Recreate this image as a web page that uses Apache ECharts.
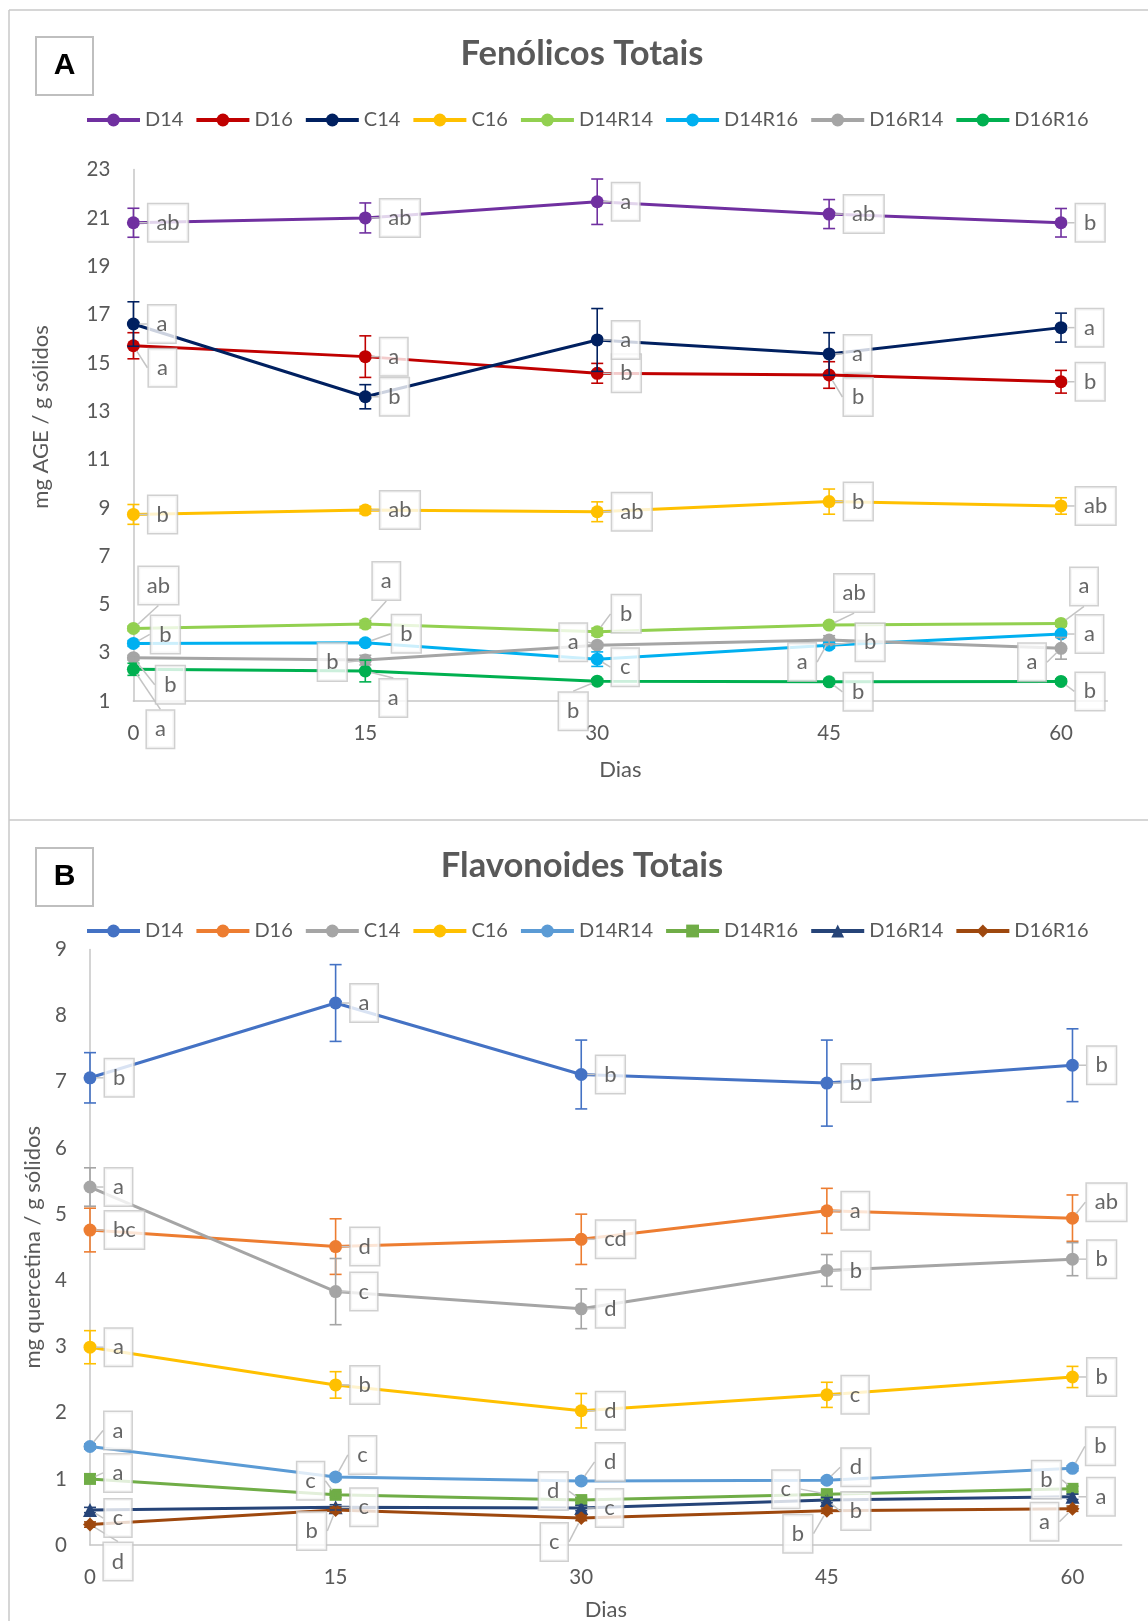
<!DOCTYPE html>
<html><head><meta charset="utf-8">
<script src="https://cdn.jsdelivr.net/npm/echarts@6/dist/echarts.min.js"></script>
<style>html,body{margin:0;padding:0;background:#fff}#c{width:1148px;height:1621px}</style>
</head><body><div id="c"></div>
<script>
// ---------- shared ----------
const days = [0, 15, 30, 45, 60];
const xTickLabels = [0, 15, 30, 45, 60];
const yTicksA = [1, 3, 5, 7, 9, 11, 13, 15, 17, 19, 21, 23];
const yTicksB = [0, 1, 2, 3, 4, 5, 6, 7, 8, 9];
const seriesNames = ['D14', 'D16', 'C14', 'C16', 'D14R14', 'D14R16', 'D16R14', 'D16R16'];

// ---------- Panel A: Fenólicos Totais (mg AGE / g sólidos) ----------
const fenD14 = [20.8, 21.0, 21.67, 21.16, 20.8];
const fenD16 = [15.71, 15.26, 14.57, 14.5, 14.22];
const fenC14 = [16.61, 13.6, 15.95, 15.37, 16.46];
const fenC16 = [8.73, 8.91, 8.84, 9.26, 9.08];
const fenD14R14 = [4.01, 4.19, 3.87, 4.15, 4.22];
const fenD14R16 = [3.39, 3.42, 2.74, 3.32, 3.78];
const fenD16R14 = [2.8, 2.7, 3.32, 3.53, 3.19];
const fenD16R16 = [2.32, 2.25, 1.83, 1.8, 1.82];

const fenErrD14 = [0.6, 0.62, 0.94, 0.6, 0.59];
const fenErrD16 = [0.54, 0.86, 0.41, 0.55, 0.47];
const fenErrC14 = [0.92, 0.5, 1.3, 0.88, 0.6];
const fenErrC16 = [0.41, 0.15, 0.41, 0.52, 0.34];
const fenErrD14R14 = [0.1, 0.15, 0.15, 0.1, 0.12];
const fenErrD14R16 = [0.12, 0.1, 0.3, 0.12, 0.1];
const fenErrD16R14 = [0.1, 0.2, 0.1, 0.18, 0.45];
const fenErrD16R16 = [0.25, 0.45, 0.1, 0.1, 0.1];

const fenLetD14 = ['ab', 'ab', 'a', 'ab', 'b'];
const fenLetD16 = ['a', 'a', 'b', 'b', 'b'];
const fenLetC14 = ['a', 'b', 'a', 'a', 'a'];
const fenLetC16 = ['b', 'ab', 'ab', 'b', 'ab'];
const fenLetD14R14 = ['ab', 'a', 'b', 'ab', 'a'];
const fenLetD14R16 = ['b', 'b', 'c', 'b', 'a'];
const fenLetD16R14 = ['b', 'b', 'a', 'a', 'a'];
const fenLetD16R16 = ['a', 'a', 'b', 'b', 'b'];

// ---------- Panel B: Flavonoides Totais (mg quercetina / g sólidos) ----------
const flaD14 = [7.06, 8.19, 7.11, 6.98, 7.25];
const flaD16 = [4.76, 4.51, 4.62, 5.05, 4.94];
const flaC14 = [5.41, 3.83, 3.57, 4.15, 4.32];
const flaC16 = [2.99, 2.42, 2.03, 2.27, 2.54];
const flaD14R14 = [1.49, 1.03, 0.97, 0.98, 1.16];
const flaD14R16 = [1.0, 0.76, 0.68, 0.77, 0.85];
const flaD16R14 = [0.53, 0.57, 0.56, 0.68, 0.73];
const flaD16R16 = [0.31, 0.53, 0.41, 0.52, 0.55];

const flaErrD14 = [0.38, 0.58, 0.52, 0.65, 0.55];
const flaErrD16 = [0.33, 0.42, 0.38, 0.34, 0.35];
const flaErrC14 = [0.29, 0.5, 0.3, 0.24, 0.25];
const flaErrC16 = [0.25, 0.2, 0.26, 0.19, 0.16];
const flaErrD14R14 = [0.04, 0.04, 0.04, 0.04, 0.04];
const flaErrD14R16 = [0.04, 0.04, 0.04, 0.04, 0.04];
const flaErrD16R14 = [0.04, 0.04, 0.04, 0.04, 0.04];
const flaErrD16R16 = [0.04, 0.04, 0.04, 0.04, 0.04];

const flaLetD14 = ['b', 'a', 'b', 'b', 'b'];
const flaLetD16 = ['bc', 'd', 'cd', 'a', 'ab'];
const flaLetC14 = ['a', 'c', 'd', 'b', 'b'];
const flaLetC16 = ['a', 'b', 'd', 'c', 'b'];
const flaLetD14R14 = ['a', 'c', 'd', 'd', 'b'];
const flaLetD14R16 = ['a', 'c', 'd', 'c', 'b'];
const flaLetD16R14 = ['c', 'c', 'c', 'b', 'a'];
const flaLetD16R16 = ['d', 'b', 'c', 'b', 'a'];

// ---------- styles ----------
const colorsA = ['#7030a0', '#c00000', '#002060', '#ffc000', '#92d050', '#00b0f0', '#a5a5a5', '#00b050'];
const colorsB = ['#4472c4', '#ed7d31', '#a5a5a5', '#ffc000', '#5b9bd5', '#70ad47', '#264478', '#9e480e'];
const symbolsB = ['circle', 'circle', 'circle', 'circle', 'circle', 'rect', 'triangle', 'diamond'];
const symbolSizeB = [13, 13, 13, 13, 13, 12, 14, 14];

// callout offsets (label centre relative to point, px); null = default right-hand callout
const calloutA = [
  [null, null, null, null, null],
  [[29, 22], null, null, [29, 22], null],
  [null, null, null, null, null],
  [null, null, null, null, null],
  [[25, -43], [21, -43], [29, -18], [25, -32], [23, -37]],
  [[32, -9], [41, -9], [28, 8], [41, -3], null],
  [[37, 27], [-33, 2], [-24, -3], [-27, 22], [-29, 14]],
  [[27, 60], [28, 27], [-24, 30], [29, 10], [29, 10]]
];
const calloutB = [
  [null, null, null, null, null],
  [null, null, null, null, [34, -16]],
  [null, null, null, null, null],
  [null, null, null, null, null],
  [[28, -16], [27, -22], [29, -19], [29, -13], [28, -22]],
  [[28, -6], [-25, -14], [-28, -9], [-41, -5], [-26, -9]],
  [[28, 8], null, null, [29, 11], null],
  [[28, 37], [-24, 21], [-27, 24], [-29, 23], [-28, 13]]
];

const valsA = [fenD14, fenD16, fenC14, fenC16, fenD14R14, fenD14R16, fenD16R14, fenD16R16];
const errsA = [fenErrD14, fenErrD16, fenErrC14, fenErrC16, fenErrD14R14, fenErrD14R16, fenErrD16R14, fenErrD16R16];
const letsA = [fenLetD14, fenLetD16, fenLetC14, fenLetC16, fenLetD14R14, fenLetD14R16, fenLetD16R14, fenLetD16R16];
const valsB = [flaD14, flaD16, flaC14, flaC16, flaD14R14, flaD14R16, flaD16R14, flaD16R16];
const errsB = [flaErrD14, flaErrD16, flaErrC14, flaErrC16, flaErrD14R14, flaErrD14R16, flaErrD16R14, flaErrD16R16];
const letsB = [flaLetD14, flaLetD16, flaLetC14, flaLetC16, flaLetD14R14, flaLetD14R16, flaLetD16R14, flaLetD16R16];

const FONT = 'Lato';
const TXT = '#595959';
const AXISC = '#c6c6c6';

function lineSeries(panel, i, vals) {
  const isB = panel === 1;
  const col = isB ? colorsB[i] : colorsA[i];
  return {
    name: (isB ? 'B_' : 'A_') + seriesNames[i],
    type: 'line', xAxisIndex: panel, yAxisIndex: panel, z: 2,
    symbol: isB ? symbolsB[i] : 'circle',
    symbolSize: isB ? symbolSizeB[i] : 13,
    showSymbol: true, silent: true,
    lineStyle: { color: col, width: 3 },
    itemStyle: { color: col },
    data: days.map((d, k) => [d, vals[k]])
  };
}

function errSeries(panel, i, vals, errs) {
  const col = panel === 1 ? colorsB[i] : colorsA[i];
  return {
    name: 'err' + panel + '_' + i, type: 'custom', xAxisIndex: panel, yAxisIndex: panel, z: 3, silent: true,
    data: days.map((d, k) => [d, vals[k], errs[k]]),
    encode: { x: 0, y: 1 },
    renderItem: function (params, api) {
      const x = api.value(0), y = api.value(1), e = api.value(2);
      const t = api.coord([x, y + e]), b = api.coord([x, y - e]);
      const h = 6, st = { stroke: col, lineWidth: 1.6 };
      return { type: 'group', children: [
        { type: 'line', shape: { x1: t[0], y1: t[1], x2: b[0], y2: b[1] }, style: st },
        { type: 'line', shape: { x1: t[0] - h, y1: t[1], x2: t[0] + h, y2: t[1] }, style: st },
        { type: 'line', shape: { x1: b[0] - h, y1: b[1], x2: b[0] + h, y2: b[1] }, style: st }
      ] };
    }
  };
}

function labelSeries(panel, vals, lets, callout) {
  const data = [], offs = [];
  vals.forEach((arr, i) => arr.forEach((v, k) => {
    data.push({ value: [days[k], v], name: lets[i][k] });
    offs.push(callout[i][k]);
  }));
  return {
    name: 'lbl' + panel, type: 'scatter', xAxisIndex: panel, yAxisIndex: panel, z: 10, silent: true,
    symbol: 'circle', symbolSize: 12, itemStyle: { color: 'transparent' },
    data: data,
    label: {
      show: true, formatter: '{b}', fontFamily: FONT, fontSize: 22, color: '#404040',
      backgroundColor: '#ffffff', borderColor: '#c4c4c4', borderWidth: 1.5,
      padding: [5, 8, 5, 8], lineHeight: 27
    },
    labelLine: { show: true, length2: 0, lineStyle: { color: '#c4c4c4', width: 1.5 } },
    labelLayout: function (p) {
      const off = offs[p.dataIndex];
      const cx = p.rect.x + p.rect.width / 2, cy = p.rect.y + p.rect.height / 2;
      if (!off) return { x: cx + 15, y: cy, align: 'left', verticalAlign: 'middle' };
      return { x: cx + off[0], y: cy + off[1], align: 'center', verticalAlign: 'middle' };
    }
  };
}

const series = [];
valsA.forEach((v, i) => series.push(lineSeries(0, i, v)));
valsA.forEach((v, i) => series.push(errSeries(0, i, v, errsA[i])));
series.push(labelSeries(0, valsA, letsA, calloutA));
valsB.forEach((v, i) => series.push(lineSeries(1, i, v)));
valsB.forEach((v, i) => series.push(errSeries(1, i, v, errsB[i])));
series.push(labelSeries(1, valsB, letsB, calloutB));

function xAxis(gi, gap) {
  return {
    type: 'value', gridIndex: gi, min: 0, max: 63,
    name: 'Dias', nameLocation: 'middle', nameGap: gap,
    nameTextStyle: { fontFamily: FONT, fontSize: 22, color: TXT },
    axisLine: { show: true, onZero: false, lineStyle: { color: AXISC, width: 1.5 } },
    axisTick: { show: false },
    splitLine: { show: false },
    axisLabel: { customValues: xTickLabels, fontFamily: FONT, fontSize: 20.5, color: TXT, margin: 22 }
  };
}
function yAxis(gi, min, max, ticks, name, gap, pad) {
  return {
    type: 'value', gridIndex: gi, min: min, max: max,
    name: name, nameLocation: 'middle', nameGap: gap, nameRotate: 90,
    nameTextStyle: { fontFamily: FONT, fontSize: 22, color: TXT, padding: pad },
    axisLine: { show: true, lineStyle: { color: AXISC, width: 1.5 } },
    axisTick: { show: false, customValues: ticks },
    splitLine: { show: false },
    axisLabel: { customValues: ticks, fontFamily: FONT, fontSize: 20.5, color: TXT, margin: 23 }
  };
}

const legendCommon = {
  itemWidth: 53, itemHeight: 16, itemGap: 11,
  lineStyle: { width: 4 },
  textStyle: { fontFamily: FONT, fontSize: 20, color: TXT },
  formatter: n => n.replace(/^[AB]_/, ''),
  selectedMode: false
};

const option = {
  animation: false,
  backgroundColor: '#ffffff',
  title: [
    { text: 'Fenólicos Totais', left: 577, top: 49, textAlign: 'center', textVerticalAlign: 'middle',
      textStyle: { fontFamily: FONT, fontWeight: 'bold', fontSize: 34.5, color: TXT } },
    { text: 'Flavonoides Totais', left: 577, top: 861, textAlign: 'center', textVerticalAlign: 'middle',
      textStyle: { fontFamily: FONT, fontWeight: 'bold', fontSize: 34.5, color: TXT } }
  ],
  legend: [
    Object.assign({ data: seriesNames.map(n => 'A_' + n), left: 80, top: 105 }, legendCommon),
    Object.assign({ data: seriesNames.map(n => 'B_' + n), left: 80, top: 916 }, legendCommon)
  ],
  grid: [
    { left: 133.4, top: 169.6, width: 974, height: 531.6, outerBoundsMode: 'none' },
    { left: 90, top: 949.4, width: 1031.6, height: 595.7, outerBoundsMode: 'none' }
  ],
  xAxis: [xAxis(0, 58), xAxis(1, 54)],
  yAxis: [
    yAxis(0, 1, 23, yTicksA, 'mg AGE / g sólidos', 81, [0, 0, 0, 37]),
    yAxis(1, 0, 9, yTicksB, 'mg quercetina / g sólidos', 35, [0, 0, 0, 0])
  ],
  graphic: [
    { type: 'line', z: -1, silent: true, shape: { x1: 9, y1: 10, x2: 1148, y2: 10 }, style: { stroke: '#c8c8c8', lineWidth: 1.5 } },
    { type: 'line', z: -1, silent: true, shape: { x1: 9, y1: 10, x2: 9, y2: 1621 }, style: { stroke: '#c8c8c8', lineWidth: 1.5 } },
    { type: 'line', z: -1, silent: true, shape: { x1: 9, y1: 820, x2: 1148, y2: 820 }, style: { stroke: '#c8c8c8', lineWidth: 1.5 } },
    { type: 'rect', silent: true, shape: { x: 36, y: 37, width: 57, height: 58 }, style: { fill: '#fff', stroke: '#bfbfbf', lineWidth: 2 } },
    { type: 'text', silent: true, x: 64.5, y: 66, style: { text: 'A', fontFamily: 'Liberation Sans', fontWeight: 'bold', fontSize: 30, fill: '#000', align: 'center', verticalAlign: 'middle' } },
    { type: 'rect', silent: true, shape: { x: 36, y: 848, width: 57, height: 58 }, style: { fill: '#fff', stroke: '#bfbfbf', lineWidth: 2 } },
    { type: 'text', silent: true, x: 64.5, y: 877, style: { text: 'B', fontFamily: 'Liberation Sans', fontWeight: 'bold', fontSize: 30, fill: '#000', align: 'center', verticalAlign: 'middle' } }
  ],
  series: series
};

const chart = echarts.init(document.getElementById('c'), null, { renderer: 'canvas' });
chart.setOption(option);
</script></body></html>
